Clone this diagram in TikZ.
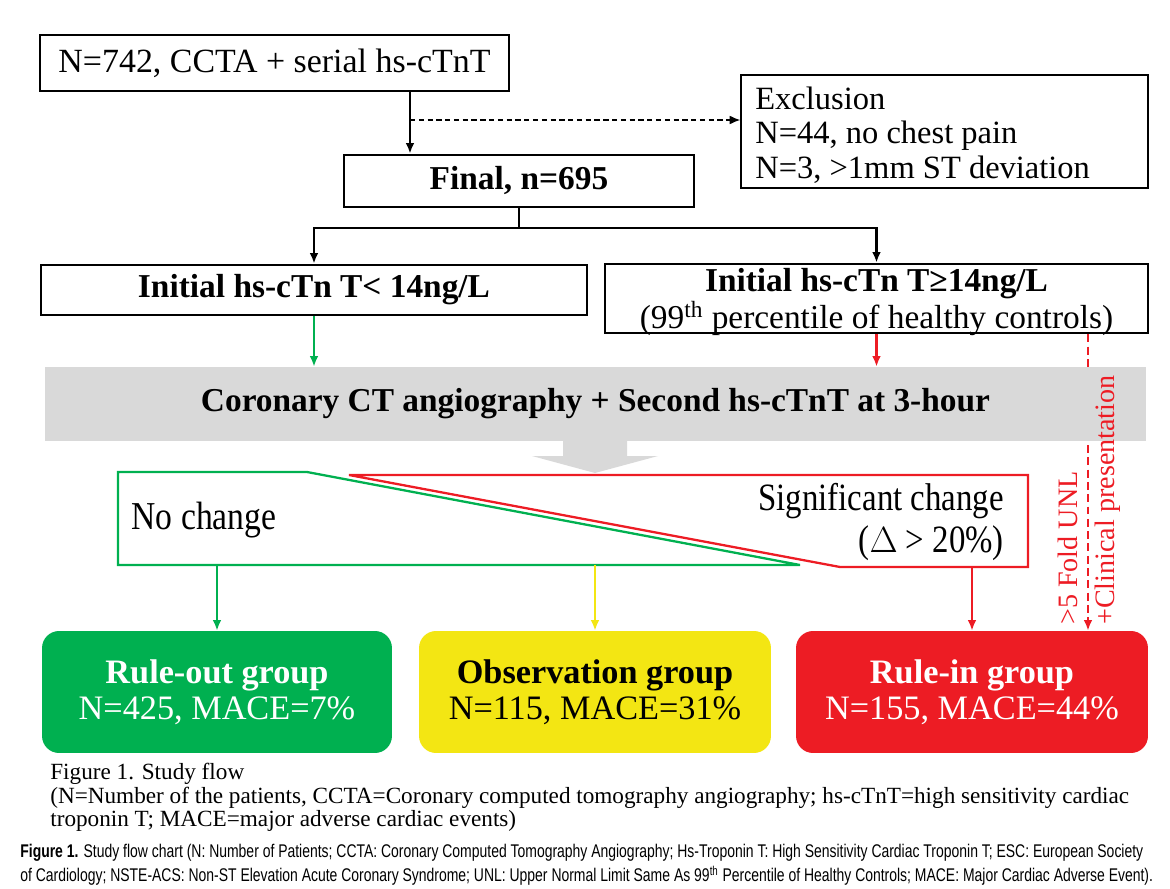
\documentclass[tikz,border=0pt]{standalone}
\usepackage{fontspec}
\setmainfont{Liberation Serif}
\newfontfamily\narrowserif[FakeStretch=0.85]{Liberation Serif}
\newfontfamily\capsans[FakeStretch=0.76]{Liberation Sans}
\usepackage{tikz}
\usetikzlibrary{arrows.meta}
\definecolor{okgreen}{HTML}{00B050}
\definecolor{warnyellow}{HTML}{F3E613}
\definecolor{alarmred}{HTML}{ED1C24}
\definecolor{bandgray}{HTML}{D9D9D9}
\tikzset{
  >={Latex[length=6pt,width=5pt]},
  flowbox/.style={draw=black, line width=1.6pt, inner sep=0pt, align=center,
    font=\fontsize{19}{21}\selectfont},
  groupbox/.style={rounded corners=0.34cm, inner sep=0pt, align=center,
    minimum height=2.44cm, font=\fontsize{19.5}{20.5}\selectfont},
  flowline/.style={line width=1.3pt, ->},
  sidetext/.style={text=alarmred, rotate=90, anchor=west, inner sep=0pt,
    font=\fontsize{16}{16}\selectfont},
}

\begin{document}
\begin{tikzpicture}[x=0.02cm, y=-0.02cm]
    \useasboundingbox (0,0) rectangle (1170,889);

    % boxes of the top part
    \node[flowbox, minimum width=9.38cm, minimum height=1.12cm, font=\fontsize{19.3}{21}\selectfont] (Start) at (274.5,63) {N=742, CCTA + serial hs-cTnT};
    \node[draw=black, line width=0.9pt, minimum width=8.14cm, minimum height=2.25cm] (Excl) at (944.5,131.5) {};
    \node[anchor=west, align=left, inner sep=0pt, font=\fontsize{18.5}{19.5}\selectfont] (ExclText) at (755,135)
          {Exclusion\\N=44, no chest pain\\N=3, >1mm ST deviation};
    \node[flowbox, minimum width=7.0cm, minimum height=1.04cm, font=\bfseries\fontsize{19}{21}\selectfont] (Final) at (519,181) {Final, n=695};
    \node[flowbox, minimum width=10.92cm, minimum height=1.0cm, font=\bfseries\fontsize{19}{21}\selectfont] (Low) at (314,290) {Initial hs-cTn T< 14ng/L};
    \node[flowbox, minimum width=10.86cm, minimum height=1.38cm] (High) at (876.5,298.5) {};
    \node[align=center, inner sep=0pt, font=\fontsize{19}{19.5}\selectfont] (HighText) at (876.5,302)
          {\textbf{Initial hs-cTn T≥14ng/L}\\(99\textsuperscript{th} percentile of healthy controls)};

    \coordinate (Branch) at (410,120);
    \coordinate (Fork) at (519,228);
    \draw[flowline] (Start.south -| Branch) -- (Final.north -| Branch);
    \draw[->, dashed, line width=0.7pt, dash pattern=on 3pt off 2pt] (Branch) -- (Excl.west |- Branch);
    \draw[line width=1.3pt] (Final.south) -- (Fork);
    \draw[flowline] (Fork) -| (Low.north);
    \draw[flowline] (Fork) -| (High.north);

    % rounded group boxes
    \node[groupbox, fill=okgreen, text=white, minimum width=7.0cm] (Out) at (217,692)
          {\textbf{Rule-out group}\\N=425, MACE=7\%};
    \node[groupbox, fill=warnyellow, text=black, minimum width=7.04cm] (Obs) at (595,692)
          {\textbf{Observation group}\\N=115, MACE=31\%};
    \node[groupbox, fill=alarmred, text=white, minimum width=7.04cm] (In) at (972,692)
          {\textbf{Rule-in group}\\N=155, MACE=44\%};

    % dashed path past the band
    \draw[->, alarmred, dashed, line width=1.4pt, dash pattern=on 4.5pt off 2.5pt] (High.south -| 1088,0) -- (In.north -| 1088,0);

    % CT band and its arrow
    \node[fill=bandgray, minimum width=22.02cm, minimum height=1.48cm, inner sep=0pt,
          font=\bfseries\fontsize{19}{21}\selectfont] (CT) at (595.5,404)
          {Coronary CT angiography + Second hs-cTnT at 3-hour};
    \fill[bandgray] (563,441) -- (627,441) -- (627,456) -- (658,456) -- (595,473) -- (532,456) -- (563,456) -- cycle;
    \draw[flowline, okgreen] (Low.south) -- (Low.south |- CT.north);
    \draw[flowline, alarmred] (High.south) -- (High.south |- CT.north);

    \node[sidetext] (Fold) at (1068,625) {>5 Fold UNL};
    \node[sidetext] (Clin) at (1108,625) {+Clinical presentation};

    % change / no change
    \draw[okgreen, line width=1.3pt] (118,472) -- (307,472) -- (800,565) -- (118,565) -- cycle;
    \draw[alarmred, line width=1.3pt] (349,475) -- (1028,475) -- (1028,567) -- (840,567) -- cycle;
    \node[font=\narrowserif\fontsize{22.5}{24}\selectfont] (NoCh) at (204,520) {No change};
    \node[font=\narrowserif\fontsize{22}{24}\selectfont, anchor=east, align=right] (SigCh) at (1010,522)
          {Significant change\\($\Delta$ > 20\%)};

    \coordinate (NoEnd) at (217,565);
    \coordinate (MidEnd) at (595,565);
    \coordinate (SigEnd) at (972,567);
    \draw[flowline, okgreen] (NoEnd) -- (Out.north);
    \draw[flowline, warnyellow] (MidEnd) -- (Obs.north);
    \draw[flowline, alarmred] (SigEnd) -- (In.north);

    % captions
    \node[anchor=north west, align=left, inner sep=0pt, font=\fontsize{13.2}{13.4}\selectfont] (Cap) at (50,763)
          {Figure 1. Study flow\\(N=Number of the patients, CCTA=Coronary computed tomography angiography; hs-cTnT=high sensitivity cardiac\\troponin T; MACE=major adverse cardiac events)};
    \node[anchor=west, inner sep=0pt, font=\capsans\fontsize{10.45}{12}\selectfont] (Foot1) at (20,853)
          {\textbf{Figure 1.} Study flow chart (N: Number of Patients; CCTA: Coronary Computed Tomography Angiography; Hs-Troponin T: High Sensitivity Cardiac Troponin T; ESC: European Society};
    \node[anchor=west, inner sep=0pt, font=\capsans\fontsize{10.45}{12}\selectfont] (Foot2) at (20,876)
          {of Cardiology; NSTE-ACS: Non-ST Elevation Acute Coronary Syndrome; UNL: Upper Normal Limit Same As 99\textsuperscript{th} Percentile of Healthy Controls; MACE: Major Cardiac Adverse Event).};
\end{tikzpicture}
\end{document}
